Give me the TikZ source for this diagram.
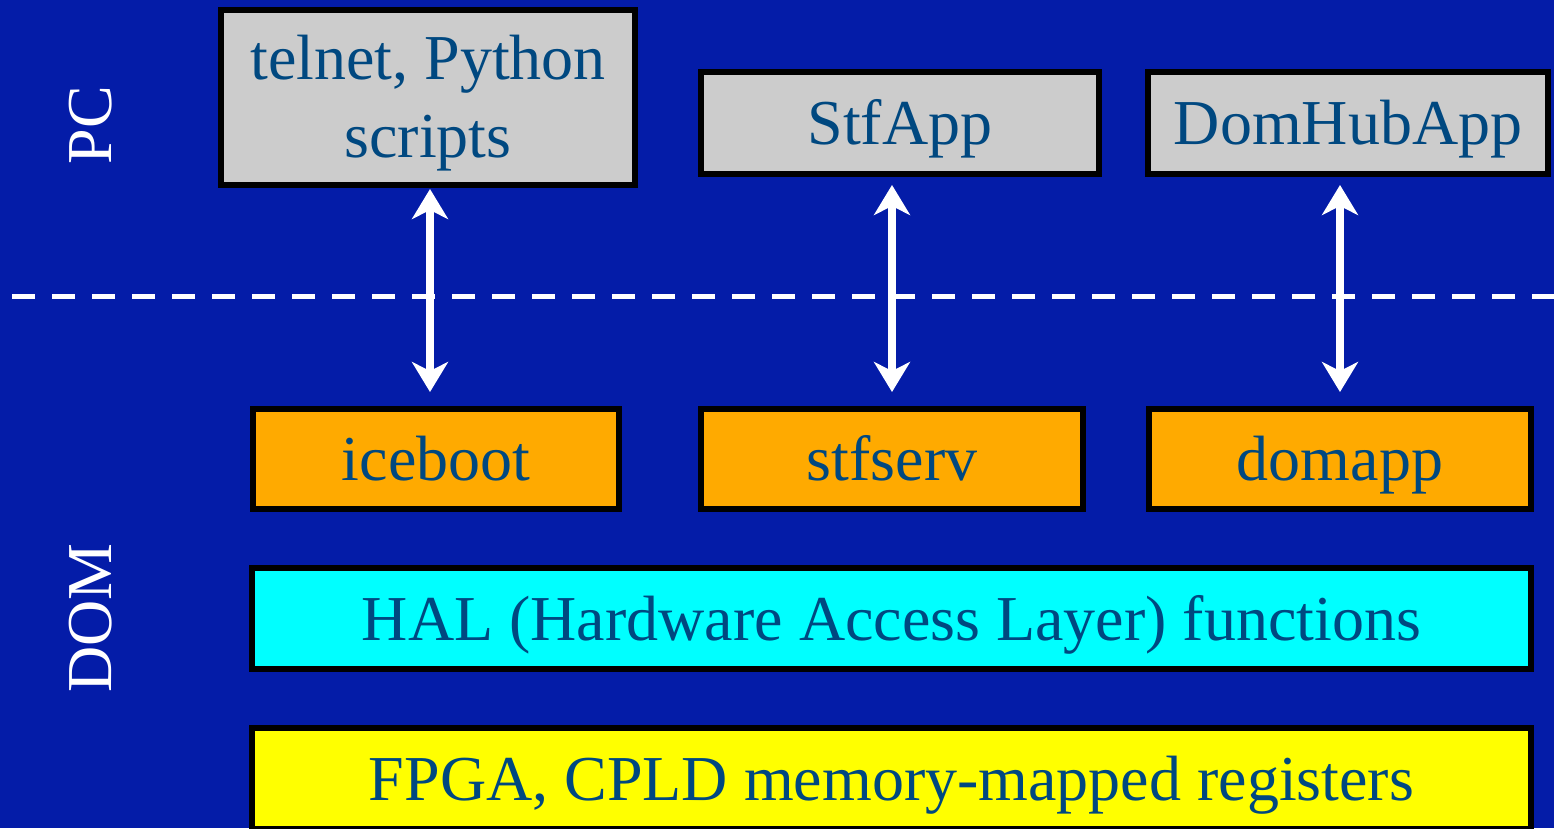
\documentclass[tikz,border=0pt]{standalone}
\usepackage{fontspec}
\setmainfont{Liberation Serif}
\usetikzlibrary{arrows.meta,calc}
\definecolor{bg}{RGB}{4,28,168}
\definecolor{txt}{RGB}{0,72,128}
\definecolor{grayfill}{RGB}{204,204,204}
\definecolor{orangefill}{RGB}{255,170,0}
\definecolor{cyanfill}{RGB}{0,255,255}
\definecolor{yellowfill}{RGB}{255,255,0}
\tikzset{
  box/.style={draw=black, line width=6pt, rectangle, inner sep=0pt,
    font=\fontsize{64}{74}\selectfont, text=txt, text height=43pt, text depth=0pt},
  pcbox/.style={box, fill=grayfill},
  dombox/.style={box, fill=orangefill},
  lbl/.style={font=\fontsize{64}{74}\selectfont, text=txt, text height=43pt, text depth=0pt, inner sep=0pt},
  side/.style={font=\fontsize{64}{74}\selectfont, text=white, text height=43pt, text depth=0pt, inner sep=0pt, rotate=90},
  link/.style={white, line width=8pt, {Stealth[length=30pt,width=36pt,inset=9pt]}-{Stealth[length=30pt,width=36pt,inset=9pt]}},
  divider/.style={white, line width=5pt, dash pattern=on 23pt off 17pt}
}
\begin{document}
\begin{tikzpicture}[x=1pt,y=-1pt]
\fill[bg] (0,0) rectangle (1554,828);
\useasboundingbox (0,0) rectangle (1554,828);

% side labels
\node[side] (pc) at (90,125) {PC};
\node[side] (dom) at (90,618) {DOM};

% dashed divider
\coordinate (dl) at (12,296);
\coordinate (dr) at (1554,296);
\draw[divider] (dl) -- (dr);

% PC boxes
\node[pcbox, minimum width=414pt, minimum height=175pt] (telnet) at (428,97.5) {};
\node[lbl] (telnet1) at (428,57.5) {telnet, Python};
\node[lbl] (telnet2) at (428,135.5) {scripts};
\node[pcbox, minimum width=398pt, minimum height=102pt] (stfapp) at (900,123) {StfApp};
\node[pcbox, minimum width=400pt, minimum height=102pt] (domhub) at (1348,123) {DomHubApp};

% DOM boxes
\node[dombox, minimum width=366pt, minimum height=100pt] (iceboot) at (436,459) {iceboot};
\node[dombox, minimum width=382pt, minimum height=100pt] (stfserv) at (892,459) {stfserv};
\node[dombox, minimum width=382pt, minimum height=100pt] (domapp) at (1340,459) {domapp};

\node[box, fill=cyanfill, minimum width=1279pt, minimum height=101pt] (hal) at (891.5,618.5) {HAL (Hardware Access Layer) functions};
\node[box, fill=yellowfill, minimum width=1279pt, minimum height=101pt] (fpga) at (891.5,778.5) {FPGA, CPLD memory-mapped registers};

% links
\draw[link, shorten <=1pt, shorten >=14pt] ([xshift=2pt]telnet.south) -- ([xshift=-6pt]iceboot.north);
\draw[link, shorten <=8pt, shorten >=14pt] (stfserv.north |- stfapp.south) -- (stfserv.north);
\draw[link, shorten <=8pt, shorten >=14pt] (domapp.north |- domhub.south) -- (domapp.north);
\end{tikzpicture}
\end{document}
